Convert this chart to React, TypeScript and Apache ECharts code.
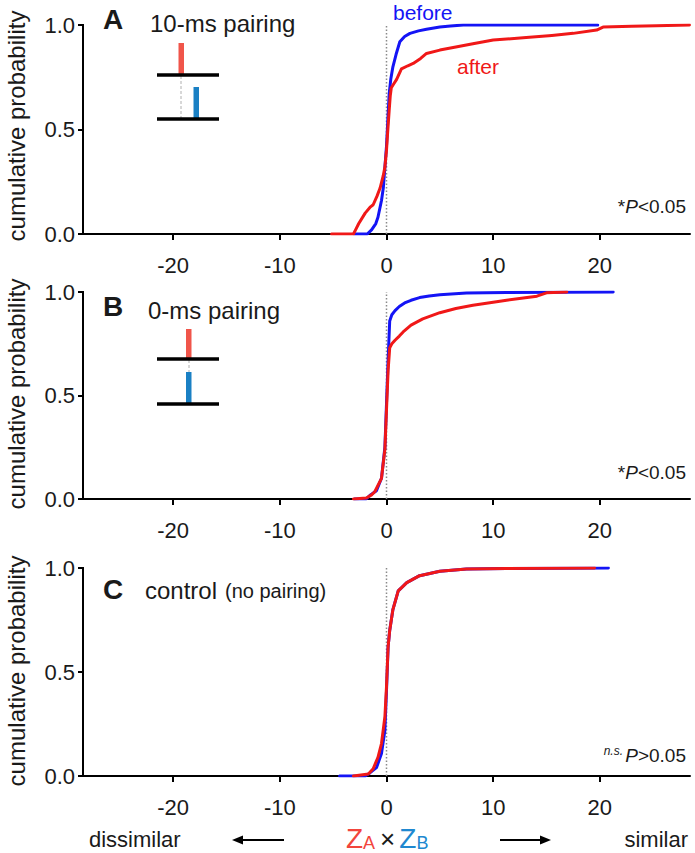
import React, { useEffect, useRef } from "react";
import * as echarts from "echarts";

// ---------- data (x = ZA x ZB, y = cumulative probability) ----------
const xTicks = [-20, -10, 0, 10, 20];
const yTicks = [0, 0.5, 1];
const zeroLine: [number, number][] = [[0, 0], [0, 1]];

const aBefore: [number, number][] = [
  [-3.0, 0], [-1.8, 0], [-1.4, 0.02], [-1.0, 0.05], [-0.8, 0.08], [-0.47, 0.16],
  [-0.3, 0.22], [-0.15, 0.32], [0, 0.42], [0.1, 0.52], [0.25, 0.67], [0.4, 0.74],
  [0.6, 0.8], [0.9, 0.86], [1.25, 0.92], [1.7, 0.945], [2.2, 0.96], [3.0, 0.972],
  [3.75, 0.98], [5, 0.99], [6, 0.995], [7.2, 1.0], [19.8, 1.0],
];
const aAfter: [number, number][] = [
  [-5.15, 0], [-3.1, 0], [-2.9, 0.02], [-2.6, 0.05], [-2.0, 0.1], [-1.5, 0.13],
  [-1.25, 0.14], [-0.9, 0.18], [-0.6, 0.22], [-0.3, 0.28], [-0.15, 0.32], [0, 0.4],
  [0.1, 0.48], [0.25, 0.59], [0.35, 0.66], [0.45, 0.7], [0.7, 0.72], [0.95, 0.74],
  [1.4, 0.79], [2.0, 0.805], [2.5, 0.816], [3.2, 0.84], [3.75, 0.864], [5, 0.88],
  [6.5, 0.895], [8.1, 0.91], [10, 0.928], [13.1, 0.94], [15.5, 0.95], [17.5, 0.96],
  [19.7, 0.976], [20.3, 0.99], [23, 0.994], [25.3, 0.997], [28.4, 1.0],
];
const bBefore: [number, number][] = [
  [-3.0, 0], [-1.9, 0], [-1.5, 0.02], [-0.94, 0.04], [-0.47, 0.1], [-0.15, 0.25],
  [0, 0.46], [0.15, 0.67], [0.3, 0.86], [0.5, 0.89], [0.8, 0.91], [1.2, 0.93],
  [1.7, 0.947], [2.3, 0.96], [3.1, 0.973], [4, 0.981], [5, 0.987], [7.5, 0.995],
  [11.25, 0.998], [21.25, 1.0],
];
const bAfter: [number, number][] = [
  [-3.1, 0], [-1.9, 0.005], [-1.4, 0.02], [-1.1, 0.035], [-0.47, 0.1], [-0.15, 0.24],
  [0, 0.43], [0.15, 0.62], [0.3, 0.73], [0.5, 0.75], [0.8, 0.767], [1.2, 0.787],
  [1.56, 0.807], [2.3, 0.84], [3.4, 0.87], [5, 0.9], [6.5, 0.92], [8.1, 0.936],
  [10, 0.95], [11.25, 0.96], [13, 0.972], [14.1, 0.98], [15, 0.996], [16.9, 1.0],
];
const cBefore: [number, number][] = [
  [-4.4, 0], [-2.0, 0], [-1.56, 0.015], [-0.94, 0.04], [-0.47, 0.108], [-0.15, 0.22],
  [0, 0.41], [0.15, 0.62], [0.3, 0.7], [0.6, 0.8], [1.1, 0.89], [1.9, 0.93],
  [3.1, 0.963], [5, 0.984], [7.5, 0.995], [11.25, 0.998], [20.8, 1.0],
];
const cAfter: [number, number][] = [
  [-3.1, 0], [-1.7, 0.01], [-1.25, 0.035], [-0.8, 0.09], [-0.47, 0.156], [-0.15, 0.285],
  [0, 0.43], [0.15, 0.62], [0.3, 0.7], [0.6, 0.8], [1.1, 0.89], [1.9, 0.93],
  [3.1, 0.963], [5, 0.984], [7.5, 0.995], [11.25, 0.998], [19.5, 1.0],
];

const panelLetters = ["A", "B", "C"];
const panelTitles = ["10-ms pairing", "0-ms pairing", "control"];
const yName = "cumulative probability";

// ---------- styling ----------
const FONT = "'Liberation Sans', Arial, Helvetica, sans-serif";
const INK = "#1a1a1a";
const BLUE = "#1414f5";
const RED = "#f01818";
const BAR_RED = "#f0554a";
const BAR_BLUE = "#1a80c4";
const Z_RED = "#f2453c";
const Z_BLUE = "#2088d0";

const GRIDS = [
  { top: 25, height: 209 },
  { top: 292, height: 207 },
  { top: 568, height: 208 },
];
const GRID_LEFT = 83;
const GRID_RIGHT = 5;
const X_MIN = -28.45;
const X_MAX = 28.45;

function txt(x: number, y: number, text: string, font: string, fill = INK, align = "left", extra: any = {}) {
  return {
    type: "text",
    x,
    y,
    silent: true,
    ...extra,
    style: { text, font, fill, align, verticalAlign: "middle" },
  };
}
function hline(x1: number, x2: number, y: number, w = 3, stroke = "#000", dash?: number[]) {
  return {
    type: "line",
    silent: true,
    shape: { x1, y1: y, x2, y2: y },
    style: { stroke, lineWidth: w, lineDash: dash },
  };
}
function vline(x: number, y1: number, y2: number, w = 1, stroke = "#aaa", dash?: number[]) {
  return {
    type: "line",
    silent: true,
    shape: { x1: x, y1, x2: x, y2 },
    style: { stroke, lineWidth: w, lineDash: dash },
  };
}
function rect(x: number, y: number, w: number, h: number, fill: string) {
  return { type: "rect", silent: true, shape: { x, y, width: w, height: h }, style: { fill } };
}

export default function App() {
  const ref = useRef<HTMLDivElement>(null);

  useEffect(() => {
    if (!ref.current) return;
    const chart = echarts.init(ref.current, undefined, { renderer: "svg" });

    const grid = GRIDS.map((g) => ({
      left: GRID_LEFT,
      right: GRID_RIGHT,
      top: g.top,
      height: g.height,
      containLabel: false,
    }));

    const xAxis = GRIDS.map((_, i) => ({
      type: "value",
      gridIndex: i,
      position: "bottom",
      min: X_MIN,
      max: X_MAX,
      axisLine: { show: true, onZero: false, lineStyle: { color: "#000", width: 2 } },
      axisTick: {
        show: true,
        inside: false,
        length: 6,
        customValues: xTicks,
        lineStyle: { color: "#000", width: 2 },
      },
      axisLabel: {
        show: true,
        customValues: xTicks,
        margin: 20,
        fontSize: 22,
        fontFamily: FONT,
        color: INK,
      },
      splitLine: { show: false },
    }));

    const yAxis = GRIDS.map((_, i) => ({
      type: "value",
      gridIndex: i,
      position: "left",
      offset: 0,
      min: 0,
      max: 1,
      interval: 0.5,
      axisLine: { show: true, onZero: false, lineStyle: { color: "#000", width: 2 } },
      axisTick: { show: true, inside: false, length: 5, lineStyle: { color: "#000", width: 2 } },
      axisLabel: {
        show: true,
        margin: 8,
        fontSize: 22,
        fontFamily: FONT,
        color: INK,
        customValues: yTicks,
        formatter: (v: number) => v.toFixed(1),
      },
      splitLine: { show: false },
    }));

    const curves = [
      [aBefore, aAfter],
      [bBefore, bAfter],
      [cBefore, cAfter],
    ];
    const series: any[] = [];
    curves.forEach(([before, after], i) => {
      series.push({
        type: "line",
        name: "zero",
        xAxisIndex: i,
        yAxisIndex: i,
        data: zeroLine,
        symbol: "none",
        silent: true,
        lineStyle: { color: "#8a8a8a", width: 1.5, type: [1.5, 2] },
        z: 1,
      });
      series.push({
        type: "line",
        name: "before",
        xAxisIndex: i,
        yAxisIndex: i,
        data: before,
        symbol: "none",
        silent: true,
        lineStyle: { color: BLUE, width: 3, join: "round", cap: "round" },
        z: 2,
      });
      series.push({
        type: "line",
        name: "after",
        xAxisIndex: i,
        yAxisIndex: i,
        data: after,
        symbol: "none",
        silent: true,
        lineStyle: { color: RED, width: 3, join: "round", cap: "round" },
        z: 3,
      });
    });

    const yNameCenters = [126, 394, 671];
    const letterY = [19, 306, 589];
    const titleY = [23, 310, 590];
    const titleX = [150, 148, 145];

    const graphic: any[] = [];
    // left axis spines (drawn explicitly so they always show)
    GRIDS.forEach((g) => {
      graphic.push(vline(GRID_LEFT, g.top - 1, g.top + g.height + 1, 2, "#000"));
    });
    // y axis names
    yNameCenters.forEach((cy) => {
      graphic.push(
        txt(16, cy, yName, `24px ${FONT}`, INK, "center", { rotation: Math.PI / 2 })
      );
    });
    // panel letters and titles
    panelLetters.forEach((L, i) => {
      graphic.push(txt(103, letterY[i], L, `bold 28px ${FONT}`));
      graphic.push(txt(titleX[i], titleY[i], panelTitles[i], `24px ${FONT}`));
    });
    graphic.push(txt(225, 591, "(no pairing)", `20px ${FONT}`));

    // before / after labels
    graphic.push(txt(393, 12, "before", `21px ${FONT}`, BLUE));
    graphic.push(txt(457, 66, "after", `21px ${FONT}`, RED));

    // P values
    const pRich = {
      n: { fontSize: 19, fontFamily: FONT, fill: INK },
      p: { fontSize: 19, fontFamily: FONT, fontStyle: "italic", fill: INK },
    };
    [206, 472].forEach((y) => {
      graphic.push({
        type: "text",
        x: 686,
        y,
        silent: true,
        style: {
          text: "{n|*}{p|P}{n|<0.05}",
          rich: pRich,
          align: "right",
          verticalAlign: "middle",
        },
      });
    });
    graphic.push({
      type: "text",
      x: 686,
      y: 755,
      silent: true,
      style: { text: "{p|P}{n|>0.05}", rich: pRich, align: "right", verticalAlign: "middle" },
    });
    graphic.push({
      type: "text",
      x: 623,
      y: 751,
      silent: true,
      style: { text: "n.s.", font: `italic 12px ${FONT}`, fill: INK, align: "right", verticalAlign: "middle" },
    });

    // inset A
    graphic.push(rect(178.5, 43, 5.5, 32, BAR_RED));
    graphic.push(vline(181, 76, 119, 1, "#b0b0b0", [3, 2]));
    graphic.push(rect(193.5, 87, 5.5, 32, BAR_BLUE));
    graphic.push(hline(157, 219, 75, 3.3));
    graphic.push(hline(157, 219, 119, 3.3));
    // inset B
    graphic.push(rect(186, 329, 5.5, 30, BAR_RED));
    graphic.push(vline(189, 360, 372, 1, "#b0b0b0", [3, 2]));
    graphic.push(rect(186, 372, 5.5, 32, BAR_BLUE));
    graphic.push(hline(157, 219, 359, 3.3));
    graphic.push(hline(157, 219, 404, 3.3));

    // bottom annotation
    graphic.push(txt(89, 839, "dissimilar", `22px ${FONT}`));
    graphic.push(txt(688, 839, "similar", `22px ${FONT}`, INK, "right"));
    graphic.push(hline(240, 284, 840, 2, "#000"));
    graphic.push({
      type: "polygon",
      silent: true,
      shape: { points: [[232, 840], [243, 835.5], [243, 844.5]] },
      style: { fill: "#000" },
    });
    graphic.push(hline(500, 542, 840, 2, "#000"));
    graphic.push({
      type: "polygon",
      silent: true,
      shape: { points: [[551, 840], [540, 835.5], [540, 844.5]] },
      style: { fill: "#000" },
    });
    graphic.push({
      type: "text",
      x: 346,
      y: 838,
      silent: true,
      style: {
        text: "{za|Z}{a|A}{x|×}{zb|Z}{b|B}",
        align: "left",
        verticalAlign: "middle",
        rich: {
          za: { fontSize: 28, lineHeight: 28, fontFamily: FONT, fill: Z_RED, verticalAlign: "bottom" },
          a: { fontSize: 18, lineHeight: 21, fontFamily: FONT, fill: Z_RED, verticalAlign: "bottom" },
          x: {
            fontSize: 26,
            lineHeight: 27,
            fontFamily: FONT,
            fill: INK,
            verticalAlign: "bottom",
            padding: [0, 4, 0, 5],
          },
          zb: { fontSize: 28, lineHeight: 28, fontFamily: FONT, fill: Z_BLUE, verticalAlign: "bottom" },
          b: { fontSize: 18, lineHeight: 21, fontFamily: FONT, fill: Z_BLUE, verticalAlign: "bottom" },
        },
      },
    });

    chart.setOption({
      animation: false,
      backgroundColor: "#ffffff",
      textStyle: { fontFamily: FONT },
      grid,
      xAxis,
      yAxis,
      series,
      graphic,
    });

    return () => chart.dispose();
  }, []);

  return (
    <div
      ref={ref}
      style={{ position: "absolute", left: 0, top: 0, width: 695, height: 853, background: "#fff" }}
    />
  );
}
